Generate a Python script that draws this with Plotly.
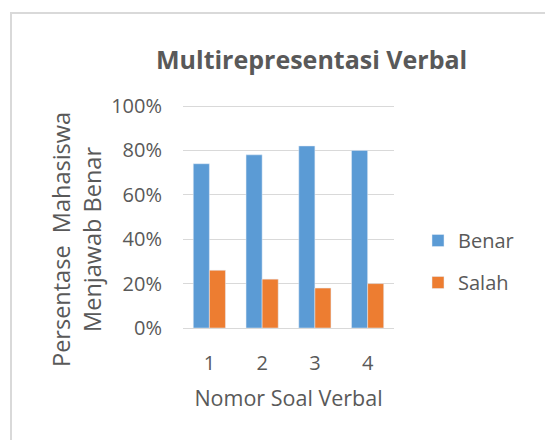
import plotly.graph_objects as go

categories = ["1", "2", "3", "4"]
benar = [0.74, 0.78, 0.82, 0.80]
salah = [0.26, 0.22, 0.18, 0.20]
y_ticks = [0, 0.2, 0.4, 0.6, 0.8, 1.0]
y_tick_labels = ["0%", "20%", "40%", "60%", "80%", "100%"]

FONT = "Open Sans"
GREY = "#595959"

# page is rendered with an 8px body margin; work in page pixels
OFF = 8
W, H = 553 - OFF, 440 - OFF
L, T = 183 - OFF, 104 - OFF
pw, ph = 211, 224
R, B = W - L - pw, H - T - ph
YMAX = 1.009

def px_x(px):
    return (px - OFF - L) / pw

def px_y(py):
    return (T + ph - (py - OFF)) / ph

fig = go.Figure()
fig.add_trace(go.Bar(x=categories, y=benar, name="Benar", marker_color="#5b9bd5",
                     legendgroup="a"))
fig.add_trace(go.Bar(x=categories, y=salah, name="Salah", marker_color="#ed7d31",
                     legendgroup="b"))

fig.update_layout(
    width=W, height=H,
    margin=dict(l=L, r=R, t=T, b=B, pad=0, autoexpand=False),
    paper_bgcolor="white", plot_bgcolor="white",
    barmode="group", bargap=0.39, bargroupgap=0,
    font=dict(family=FONT, color=GREY, size=20),
    showlegend=True,
    legend=dict(x=px_x(418), y=px_y(221), xanchor="left", yanchor="top",
                font=dict(size=20, color=GREY), tracegroupgap=13,
                bgcolor="rgba(0,0,0,0)"),
    xaxis=dict(showgrid=False, showline=True, linecolor="#d9d9d9", linewidth=1,
               ticks="", tickfont=dict(size=20, color=GREY), automargin=False,
               ticklabelstandoff=17,
               title=dict(text="Nomor Soal Verbal", font=dict(size=21.5, color=GREY),
                          standoff=15)),
    yaxis=dict(range=[0, YMAX], tickvals=y_ticks, ticktext=y_tick_labels,
               showgrid=True, gridcolor="#d9d9d9", gridwidth=1, zeroline=False,
               showline=False, ticks="", tickfont=dict(size=20, color=GREY),
               ticklabelstandoff=20, automargin=False),
)

fig.add_annotation(text="<b>Multirepresentasi Verbal</b>", xref="paper", yref="paper",
                   x=px_x(311), y=px_y(59), xanchor="center", yanchor="middle",
                   showarrow=False, font=dict(size=25, color=GREY, family=FONT))

fig.add_annotation(text="Persentase  Mahasiswa<br>Menjawab Benar", xref="paper", yref="paper",
                   x=px_x(76), y=px_y(240), xanchor="center", yanchor="middle",
                   textangle=-90, showarrow=False,
                   font=dict(size=23.5, color=GREY, family=FONT))

fig.add_shape(type="rect", xref="paper", yref="paper",
              x0=px_x(11), x1=px_x(620), y0=px_y(500), y1=px_y(13),
              line=dict(color="#d9d9d9", width=2), fillcolor="rgba(0,0,0,0)", layer="below")

fig.write_html("out.html")
